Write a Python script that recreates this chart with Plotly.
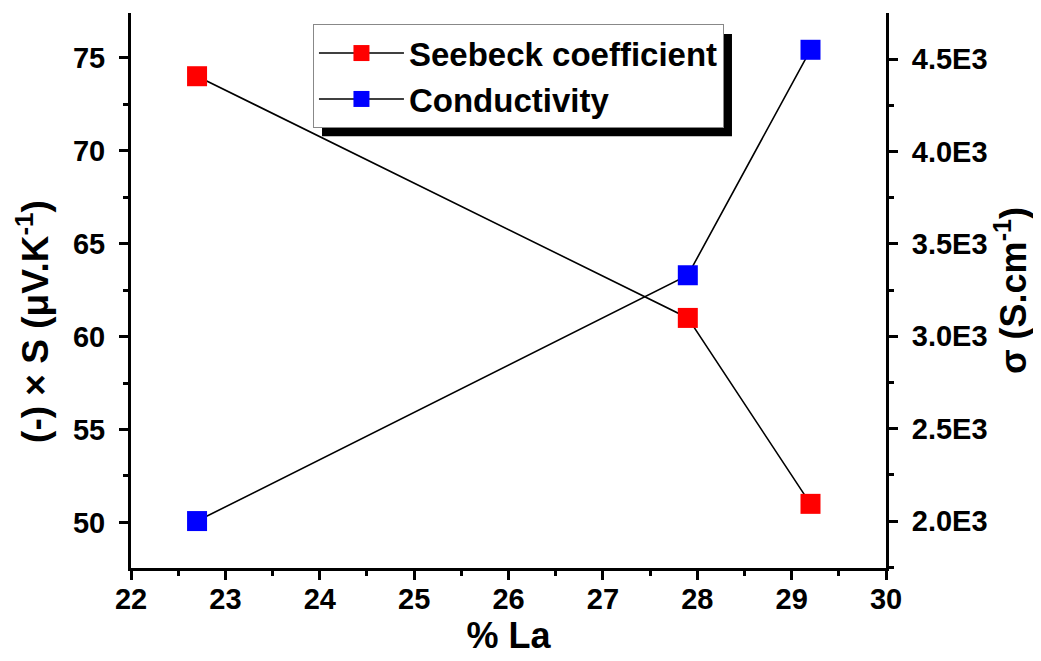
import plotly.graph_objects as go

# data
la_pct = [22.7, 27.9, 29.2]
seebeck = [74, 61, 51]            # (-) x S, uV/K
conductivity = [2000, 3330, 4550]  # S/cm

sigma_ticks = [2000, 2500, 3000, 3500, 4000, 4500]
sigma_labels = ["2.0E3", "2.5E3", "3.0E3", "3.5E3", "4.0E3", "4.5E3"]

FONT = "Arial, Liberation Sans, sans-serif"
tickfont = dict(family=FONT, size=29, color="black", weight="bold")
titlefont = dict(family=FONT, size=36, color="black", weight="bold")

fig = go.Figure()
fig.add_trace(go.Scatter(
    x=la_pct, y=seebeck, name="Seebeck coefficient",
    mode="lines+markers",
    line=dict(color="black", width=1.6),
    marker=dict(symbol="square", size=20, color="#ff0000"),
))
fig.add_trace(go.Scatter(
    x=la_pct, y=conductivity, name="Conductivity", yaxis="y2",
    mode="lines+markers",
    line=dict(color="black", width=1.6),
    marker=dict(symbol="square", size=20, color="#0000ff"),
))

axis_common = dict(
    showline=True, linecolor="black", linewidth=3,
    ticks="outside", ticklen=9, tickwidth=3, tickcolor="black",
    showgrid=False, zeroline=False, tickfont=tickfont,
)

# page body adds ~8px offset, so margins are shifted to compensate
fig.update_layout(
    width=1041, height=661,
    margin=dict(l=123, r=163, t=5, b=101),
    paper_bgcolor="white", plot_bgcolor="white",
    showlegend=True,
    xaxis=dict(
        range=[22, 30], dtick=1, tick0=22,
        minor=dict(ticks="outside", ticklen=5, tickwidth=3, dtick=0.5, tickcolor="black"),
        title=dict(text="% La", font=titlefont, standoff=10),
        ticklabelstandoff=-6,
        **axis_common,
    ),
    xaxis2=dict(
        range=[22, 30], overlaying="x", side="top", anchor="y",
        showline=True, linecolor="black", linewidth=3,
        ticks="inside", ticklen=9, tickwidth=3, tickcolor="black", dtick=1, tick0=22,
        minor=dict(ticks="inside", ticklen=5, tickwidth=3, dtick=0.5, tickcolor="black"),
        showticklabels=False, showgrid=False, zeroline=False,
    ),
    yaxis=dict(
        range=[47.55, 77.4], dtick=5, tick0=50,
        minor=dict(ticks="outside", ticklen=5, tickwidth=3, dtick=2.5, tickcolor="black"),
        ticklabelstandoff=8,
        **axis_common,
    ),
    yaxis2=dict(
        range=[1746, 4749], overlaying="y", side="right",
        tickmode="array", tickvals=sigma_ticks, ticktext=sigma_labels,
        minor=dict(ticks="outside", ticklen=5, tickwidth=3, dtick=250, tick0=2000, tickcolor="black"),
        title=dict(text="\u03c3 (S.cm<sup>-1</sup>)", font=titlefont, standoff=14),
        ticklabelstandoff=8,
        **axis_common,
    ),
    legend=dict(
        x=0.241, y=0.98, xanchor="left", yanchor="top",
        bgcolor="white", bordercolor="#888888", borderwidth=1,
        font=dict(family=FONT, size=33, color="black", weight="bold"),
        tracegroupgap=0, itemwidth=85,
    ),
    annotations=[dict(
        text="(-) \u00d7 S (\u03bcV.K<sup>-1</sup>)", textangle=-90,
        xref="paper", yref="paper", x=-0.13, y=0.445,
        xanchor="center", yanchor="middle", showarrow=False,
        font=dict(family=FONT, size=37, color="black", weight="bold"),
    )],
    shapes=[dict(
        type="rect", xref="paper", yref="paper", layer="above",
        x0=0.253, x1=0.796, y0=0.778, y1=0.962,
        fillcolor="black", line=dict(width=0),
    )],
)

fig.write_html("out.html")
